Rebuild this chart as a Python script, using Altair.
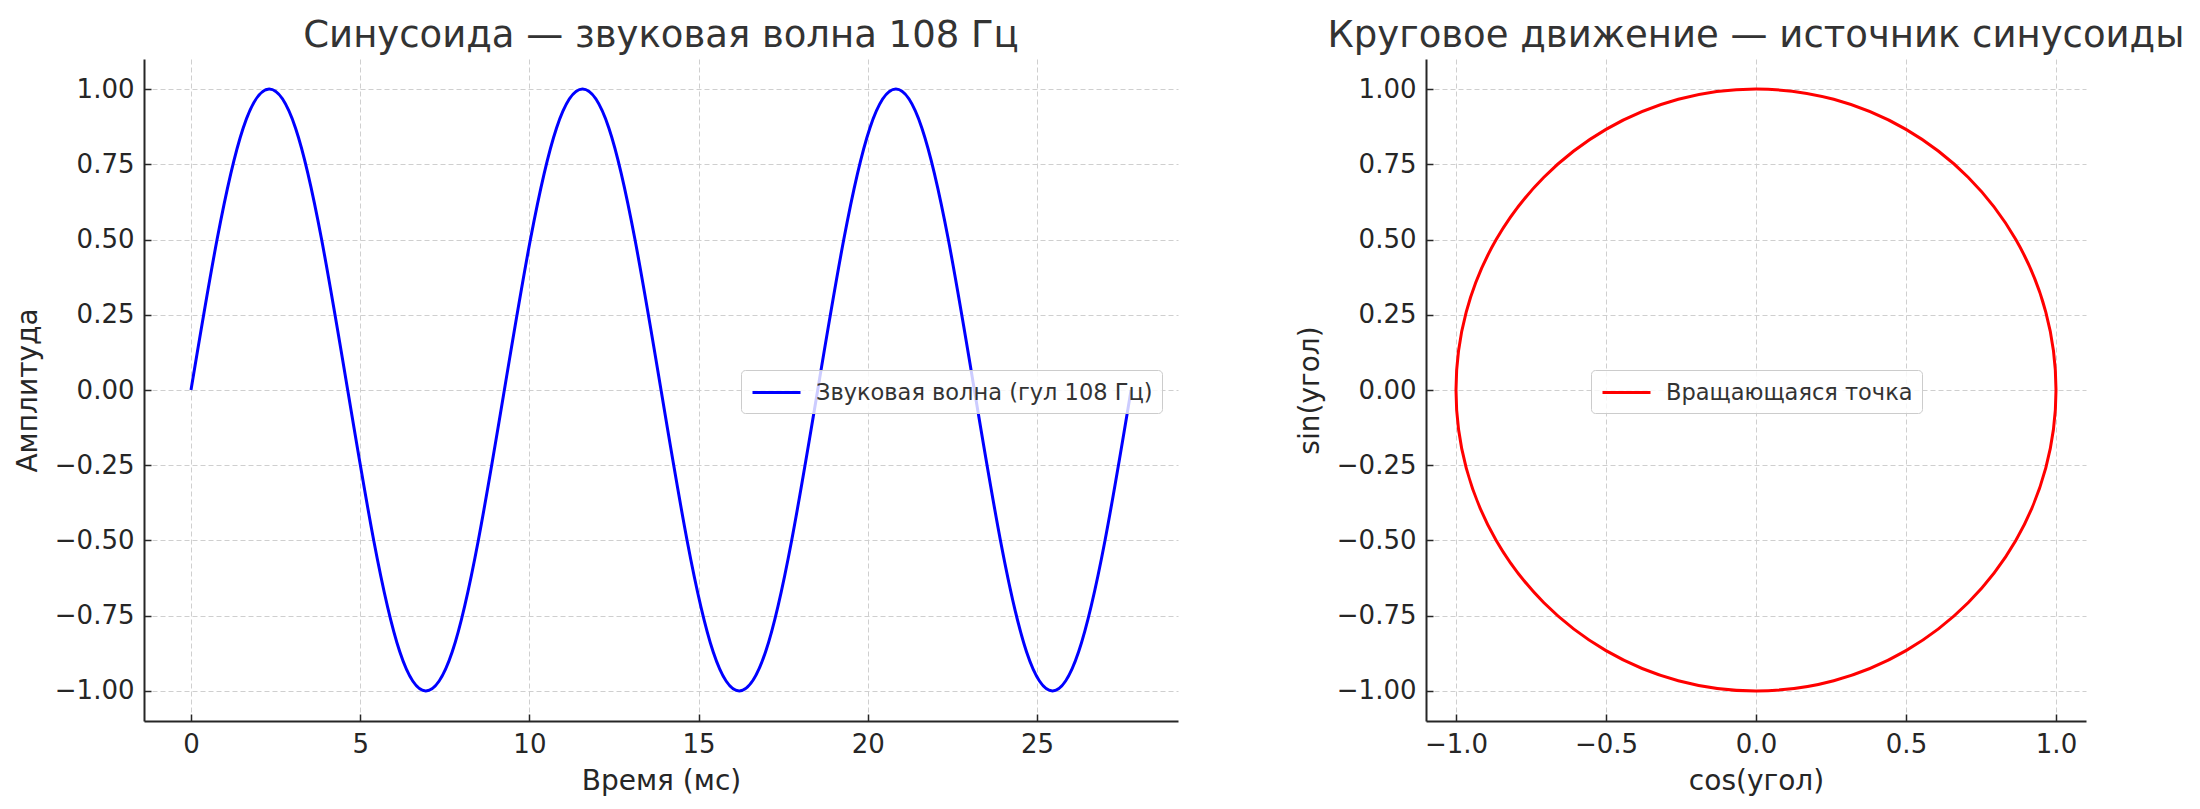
import altair as alt
import pandas as pd

# --- data ---
# sine wave 108 Hz, sampled every 30 degrees of phase
time_ms = [0.00, 0.77, 1.54, 2.31, 3.09, 3.86, 4.63, 5.40, 6.17, 6.94, 7.72, 8.49,
           9.26, 10.03, 10.80, 11.57, 12.35, 13.12, 13.89, 14.66, 15.43, 16.20, 16.98, 17.75,
           18.52, 19.29, 20.06, 20.83, 21.60, 22.38, 23.15, 23.92, 24.69, 25.46, 26.23, 27.01,
           27.78]
amplitude = [0.00, 0.50, 0.87, 1.00, 0.87, 0.50, 0.00, -0.50, -0.87, -1.00, -0.87, -0.50,
             0.00, 0.50, 0.87, 1.00, 0.87, 0.50, 0.00, -0.50, -0.87, -1.00, -0.87, -0.50,
             0.00, 0.50, 0.87, 1.00, 0.87, 0.50, 0.00, -0.50, -0.87, -1.00, -0.87, -0.50,
             0.00]

# rotating point, every 15 degrees
cos_angle = [1.000, 0.966, 0.866, 0.707, 0.500, 0.259, 0.000, -0.259, -0.500, -0.707, -0.866, -0.966,
             -1.000, -0.966, -0.866, -0.707, -0.500, -0.259, 0.000, 0.259, 0.500, 0.707, 0.866, 0.966]
sin_angle = [0.000, 0.259, 0.500, 0.707, 0.866, 0.966, 1.000, 0.966, 0.866, 0.707, 0.500, 0.259,
             0.000, -0.259, -0.500, -0.707, -0.866, -0.966, -1.000, -0.966, -0.866, -0.707, -0.500, -0.259]

wave_name = 'Звуковая волна (гул 108 Гц)'
circle_name = 'Вращающаяся точка'

y_ticks = [-1.0, -0.75, -0.5, -0.25, 0.0, 0.25, 0.5, 0.75, 1.0]
wave_x_ticks = [0, 5, 10, 15, 20, 25]
circle_x_ticks = [-1.0, -0.5, 0.0, 0.5, 1.0]

df_wave = pd.DataFrame({'t': time_ms, 'a': amplitude, 'series': wave_name})
df_circle = pd.DataFrame({'step': list(range(len(cos_angle))), 'c': cos_angle,
                          's': sin_angle, 'series': circle_name})

FONT = 'DejaVu Sans'

wave = alt.Chart(df_wave).mark_line(
    interpolate='natural',
    strokeWidth=3
).encode(
    alt.X('t:Q').title('Время (мс)')
        .scale(domain=[-1.389, 29.167], nice=False, zero=False)
        .axis(values=wave_x_ticks, format='d'),
    alt.Y('a:Q').title('Амплитуда')
        .scale(domain=[-1.1, 1.1], nice=False, zero=False)
        .axis(values=y_ticks, format='.2f'),
    color=alt.Color('series:N',
                    scale=alt.Scale(domain=[wave_name], range=['#0000ff']),
                    legend=alt.Legend(title=None, orient='none', legendX=597, legendY=311))
).properties(
    width=1034,
    height=662,
    title='Синусоида — звуковая волна 108 Гц'
)

circle = alt.Chart(df_circle).mark_line(
    interpolate='cardinal-closed',
    strokeWidth=3
).encode(
    alt.X('c:Q').title('cos(угол)')
        .scale(domain=[-1.1, 1.1], nice=False, zero=False)
        .axis(values=circle_x_ticks, format='.1f'),
    alt.Y('s:Q').title('sin(угол)')
        .scale(domain=[-1.1, 1.1], nice=False, zero=False)
        .axis(values=y_ticks, format='.2f'),
    order='step:Q',
    color=alt.Color('series:N',
                    scale=alt.Scale(domain=[circle_name], range=['#ff0000']),
                    legend=alt.Legend(title=None, orient='none', legendX=165, legendY=311))
).properties(
    width=660,
    height=662,
    title='Круговое движение — источник синусоиды'
)

chart = alt.hconcat(
    wave, circle,
    spacing=248,
    bounds='flush',
    padding={'left': 5, 'top': 8, 'right': 5, 'bottom': 5}
).resolve_scale(
    color='independent'
).configure_view(
    stroke='transparent'
).configure_axis(
    labelFont=FONT,
    labelFontSize=26,
    labelColor='#262626',
    labelPadding=17,
    titleFont=FONT,
    titleFontSize=28,
    titleFontWeight='normal',
    titleColor='#262626',
    domainColor='#262626',
    domainWidth=2,
    tickColor='#262626',
    tickWidth=1.5,
    tickSize={'expr': '-7'},
    gridColor='#cfcfcf',
    gridDash=[5, 3],
    gridWidth=1
).configure_axisX(
    titlePadding=10
).configure_axisY(
    titlePadding=12
).configure_title(
    font=FONT,
    fontSize=37,
    fontWeight='normal',
    color='#333333',
    anchor='middle',
    offset=4
).configure_legend(
    labelFont=FONT,
    labelFontSize=22.5,
    labelColor='#333333',
    labelLimit=800,
    padding=9,
    cornerRadius=4,
    strokeColor='#cccccc',
    fillColor='rgba(255,255,255,0.8)',
    symbolType='M-2,0H2',
    symbolSize=576,
    symbolStrokeWidth=3,
    symbolOffset=13,
    labelOffset=26
)

chart.save("out.html", embed_options={"renderer": "svg", "actions": False})
